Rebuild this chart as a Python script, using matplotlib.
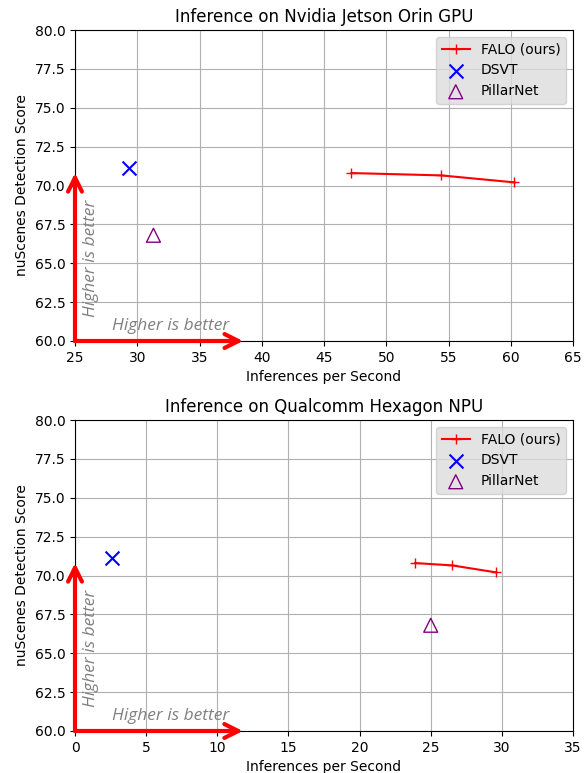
import matplotlib
matplotlib.use("Agg")
import matplotlib.pyplot as plt

# Data
falo_gpu_ips = [47.2, 54.4, 60.3]
falo_gpu_nds = [70.8, 70.65, 70.2]
dsvt_gpu = (29.3, 71.15)
pillar_gpu = (31.3, 66.8)

falo_npu_ips = [23.9, 26.5, 29.6]
falo_npu_nds = [70.8, 70.65, 70.2]
dsvt_npu = (2.6, 71.15)
pillar_npu = (25.0, 66.8)

titles = ["Inference on Nvidia Jetson Orin GPU", "Inference on Qualcomm Hexagon NPU"]
xlims = [(25, 65), (0, 35)]
arrow_x_ends = [38.5, 11.8]

fig = plt.figure(figsize=(5.87, 7.73), dpi=100)
W, H = 587, 773
ax1 = fig.add_axes([75 / W, 1 - 341 / H, (573 - 75) / W, (341 - 30) / H])
ax2 = fig.add_axes([75 / W, 1 - 731 / H, (573 - 75) / W, (731 - 420) / H])

datasets = [
    (falo_gpu_ips, falo_gpu_nds, dsvt_gpu, pillar_gpu),
    (falo_npu_ips, falo_npu_nds, dsvt_npu, pillar_npu),
]

for ax, (fx, fy, d, p), title, xl, xe in zip([ax1, ax2], datasets, titles, xlims, arrow_x_ends):
    ax.plot(fx, fy, color="red", marker="+", markersize=7, lw=1.5, label="FALO (ours)")
    ax.scatter([d[0]], [d[1]], marker="x", s=100, color="blue", lw=1.5, label="DSVT", zorder=3)
    ax.scatter([p[0]], [p[1]], marker="^", s=100, facecolors="none", edgecolors="purple", lw=1.0, label="PillarNet", zorder=3)
    ax.set_xlim(*xl)
    ax.set_ylim(60, 80)
    ax.set_yticks([60, 62.5, 65, 67.5, 70, 72.5, 75, 77.5, 80])
    ax.grid(True, color="#b0b0b0", lw=0.8)
    ax.set_axisbelow(True)
    ax.set_title(title, fontsize=12)
    ax.set_xlabel("Inferences per Second", fontsize=10)
    ax.set_ylabel("nuScenes Detection Score", fontsize=10)
    ax.legend(loc="upper right", fontsize=10, facecolor="#dcdcdc", framealpha=0.8)
    x0 = xl[0]
    ax.annotate("", xy=(x0, 70.8), xytext=(x0, 60), xycoords="data",
                arrowprops=dict(arrowstyle="->", color="red", lw=3, mutation_scale=25,
                                shrinkA=0, shrinkB=0), annotation_clip=False)
    ax.annotate("", xy=(xe, 60), xytext=(x0, 60), xycoords="data",
                arrowprops=dict(arrowstyle="->", color="red", lw=3, mutation_scale=25,
                                shrinkA=0, shrinkB=0), annotation_clip=False)
    span = xl[1] - xl[0]
    ax.text(x0 + span * 0.074, 60.45, "Higher is better", style="italic", color="gray",
            fontsize=12.5, family="Open Sans", ha="left", va="bottom")
    ax.text(x0 + span * 0.032, 65.3, "Higher is better", style="italic", color="gray",
            fontsize=12.5, family="Open Sans", rotation=90, ha="center", va="center")

fig.savefig("out.png", dpi=100)
